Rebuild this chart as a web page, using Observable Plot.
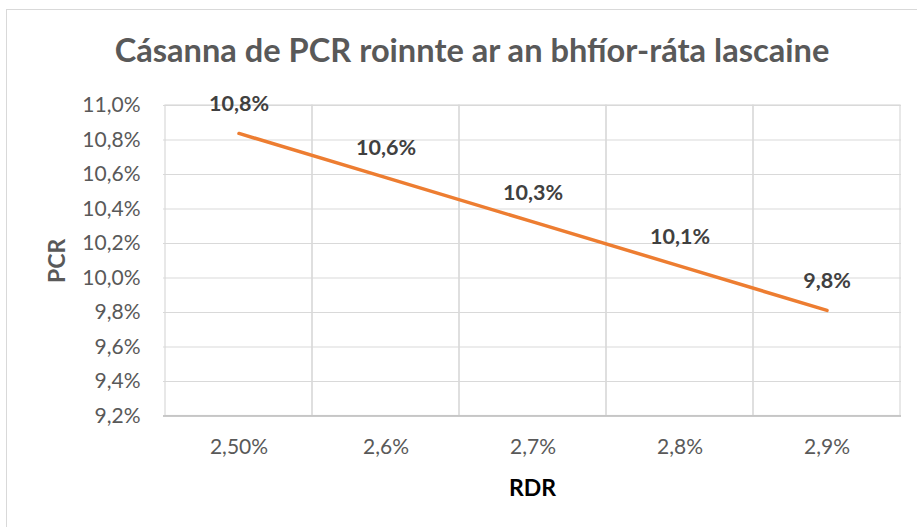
<!DOCTYPE html>
<html><head><meta charset="utf-8">
<script src="https://cdn.jsdelivr.net/npm/d3@7"></script>
<script src="https://cdn.jsdelivr.net/npm/@observablehq/plot@0.6"></script>
<style>
body{margin:0;background:#fff;}
#wrap{position:relative;width:917px;height:527px;overflow:hidden;font-family:Lato,"Open Sans",sans-serif;}
#border{position:absolute;left:6px;top:9px;width:930px;height:540px;border:1.5px solid #d9d9d9;}
#title{position:absolute;top:34px;left:472px;transform:translateX(-50%);white-space:nowrap;font-size:32.6px;font-weight:bold;color:#595959;line-height:1;}
#chart{position:absolute;left:0;top:85px;}
</style></head><body>
<div id="wrap"><div id="border"></div><div id="title">Cásanna de PCR roinnte ar an bhfíor-ráta lascaine</div><div id="chart"></div></div>
<script>
const rdrLabels = ["2,50%","2,6%","2,7%","2,8%","2,9%"];
const pcrValues = [10.838, 10.582, 10.325, 10.069, 9.812];
const pcrLabels = ["10,8%","10,6%","10,3%","10,1%","9,8%"];
const yTicks = [9.2, 9.4, 9.6, 9.8, 10.0, 10.2, 10.4, 10.6, 10.8, 11.0];
const xTitle = "RDR";
const yTitle = "PCR";

const data = rdrLabels.map((r, i) => ({rdr: r, pcr: pcrValues[i], label: pcrLabels[i]}));

const chart = Plot.plot({
  width: 917,
  height: 442,
  marginLeft: 163,
  marginRight: 16,
  marginTop: 20,
  marginBottom: 111.5,
  style: {fontFamily: "Lato, 'Open Sans', sans-serif", background: "transparent"},
  x: {type: "band", domain: rdrLabels, padding: 0},
  y: {domain: [9.2, 11.0]},
  marks: [
    Plot.gridY(yTicks, {stroke: "#d9d9d9", strokeOpacity: 1, strokeWidth: 1.2}),
    Plot.cell(rdrLabels, {x: d => d, stroke: "#d9d9d9", fill: "none", strokeWidth: 1.2}),
    Plot.ruleY([9.2], {stroke: "#bfbfbf", strokeWidth: 1.5}),
    Plot.axisY(yTicks, {tickSize: 0, tickPadding: 23, fontSize: 21, fill: "#595959", label: null,
      tickFormat: d => d.toFixed(1).replace(".", ",") + "%"}),
    Plot.axisX({tickSize: 0, tickPadding: 23, fontSize: 21, fill: "#595959", label: null}),
    Plot.text([yTitle], {frameAnchor: "left", dx: -106, rotate: -90, fontSize: 23, fontWeight: "bold", fill: "#595959", textAnchor: "middle"}),
    Plot.text([xTitle], {frameAnchor: "bottom", dy: 72.5, fontSize: 23, fontWeight: "bold", fill: "#000", lineAnchor: "middle"}),
    Plot.line(data, {x: "rdr", y: "pcr", stroke: "#ED7D31", strokeWidth: 3.5, strokeLinecap: "round"}),
    Plot.text(data, {x: "rdr", y: "pcr", text: "label", dy: -29, fontSize: 21.5, fontWeight: "bold", fill: "#404040"})
  ]
});
document.getElementById("chart").appendChild(chart);
</script>
</body></html>
